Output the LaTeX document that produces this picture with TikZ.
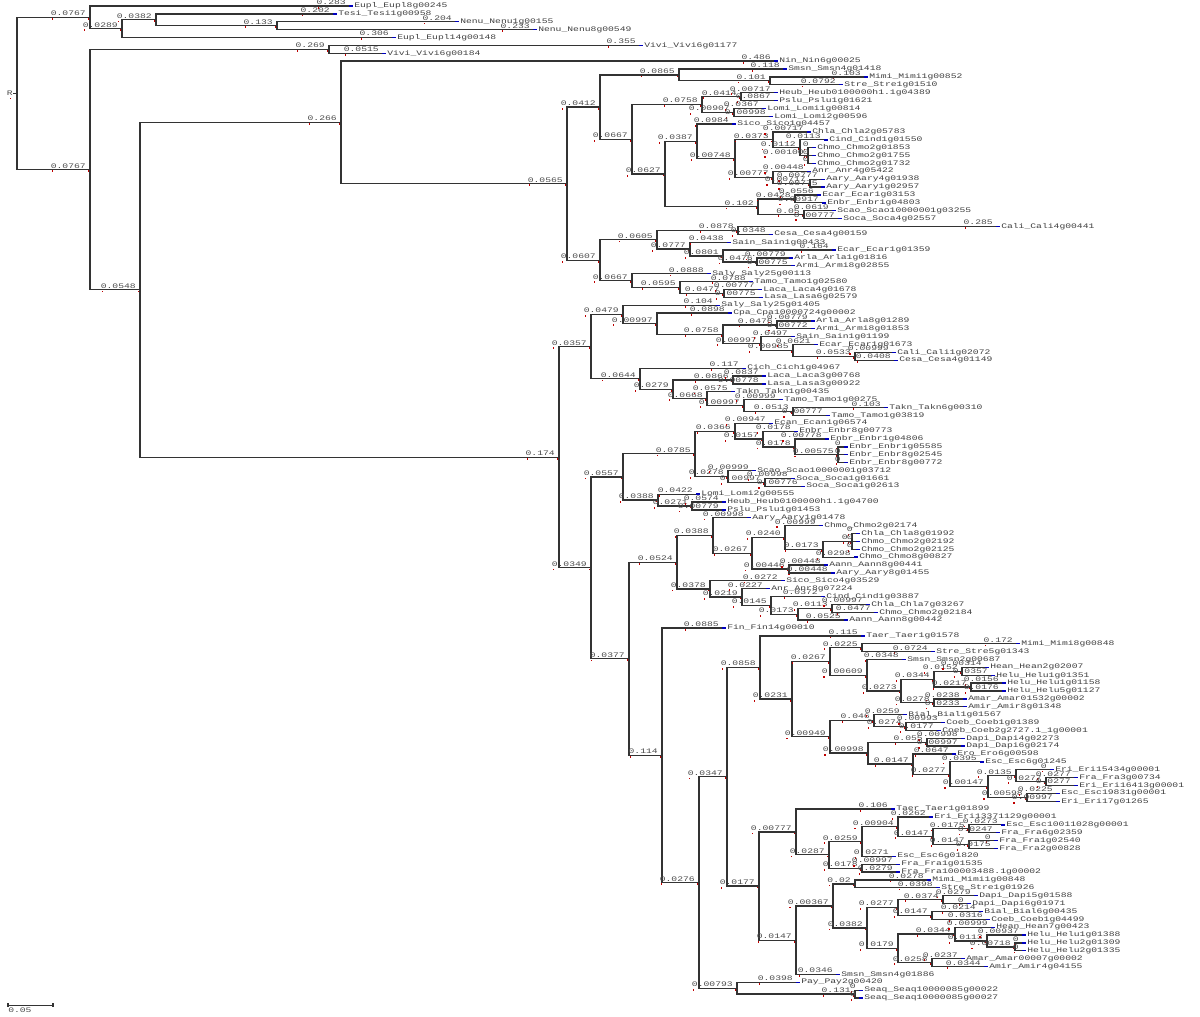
\documentclass[tikz,border=0pt]{standalone}
\usepackage{fontspec}
\usepackage{graphicx}
\newfontfamily\labfont{Liberation Mono}
\newcommand\lbf{\labfont\fontsize{5.2}{5.6}\selectfont}
\newcommand\sx[1]{\scalebox{1.4}[1]{#1}}
\tikzset{
  br/.style={draw=black!80, line width=0.95pt},
  blab/.style={font=\lbf, text=black!70, inner sep=0pt, anchor=south east},
  ltx/.style={font=\lbf, text=black!75, inner sep=0pt, anchor=west},
  tipm/.style={draw=blue!75!black, line width=1pt},
  redm/.style={fill=red!75!black},
}
% internal node: name, index, x, parent, branch label
\newcommand\inx[5]{%
  \coordinate (#1) at (#3,#2);
  \draw[br] (#4) |- (#1);
  \node[blab] (#1l) at ([xshift=-3pt,yshift=0.9pt]#1) {\sx{#5}};
  \fill[redm] ([xshift=1pt,yshift=-1.5pt]#1l.south west) rectangle ++(1.1pt,-1.3pt);
  \fill[redm] ([xshift=-1.6pt,yshift=-0.5pt]#1) rectangle ++(1.1pt,-1.3pt);
}
% leaf: name, index, x, parent, branch label, text
\newcommand\lfx[6]{%
  \coordinate (#1) at (#3,#2);
  \draw[br] (#4) |- (#1);
  \node[blab] (#1l) at ([xshift=-3pt,yshift=0.9pt]#1) {\sx{#5}};
  \fill[redm] ([xshift=1pt,yshift=-1.5pt]#1l.south west) rectangle ++(1.1pt,-1.3pt);
  \draw[tipm] ([xshift=-0.75pt]#1) -- ([xshift=2.4pt]#1);
  \node[ltx] (#1t) at ([xshift=3pt]#1) {\sx{#6}};
}
\begin{document}
\begin{tikzpicture}[x=0.75pt,y=-5.905pt]
\useasboundingbox (0,0.2379) rectangle (1200,129.29);
% root
\coordinate (R) at (17,12.1);
\coordinate (Rs) at (13,12.1);
\draw[br] (R) -- (Rs);
\node[font=\lbf, text=black!70, inner sep=0pt, anchor=east] (Rl) at (Rs) {\sx{R}};
\fill[redm] ([yshift=-1.2pt]Rl.south) rectangle ++(1.1pt,-1.3pt);
% top clade
\inx{nA}{2.4375}{90}{R}{0.0767}
\lfx{l1}{1}{350}{nA}{0.283}{Eupl\_Eupl8g00245}
\inx{nA2}{3.875}{122}{nA}{0.0289}
\inx{nA3}{2.75}{156}{nA2}{0.0382}
\lfx{l2}{2}{334}{nA3}{0.202}{Tesi\_Tesi1g00958}
\inx{nA4}{3.5}{277}{nA3}{0.133}
\lfx{l3}{3}{456}{nA4}{0.204}{Nenu\_Nenu1g00155}
\lfx{l4}{4}{534}{nA4}{0.233}{Nenu\_Nenu8g00549}
\lfx{l5}{5}{393}{nA2}{0.306}{Eupl\_Eupl14g00148}
% second clade
\inx{nB}{21.77}{90}{R}{0.0767}
\inx{nC}{6.5}{329}{nB}{0.269}
\lfx{l6}{6}{640}{nC}{0.355}{Vivi\_Vivi6g01177}
\lfx{l7}{7}{383}{nC}{0.0515}{Vivi\_Vivi6g00184}
\inx{nD}{37.05}{140}{nB}{0.0548}
\inx{nE}{15.78}{341}{nD}{0.266}
\lfx{l8}{8}{775}{nE}{0.486}{Nin\_Nin6g00025}
\inx{nG}{23.56}{567}{nE}{0.0565}
\inx{nH}{13.84}{600}{nG}{0.0412}
\inx{nHa}{9.75}{679}{nH}{0.0865}
\lfx{l9}{9}{784}{nHa}{0.118}{Smsn\_Smsn4g01418}
\inx{nHb}{10.5}{770}{nHa}{0.101}
\lfx{l10}{10}{865}{nHb}{0.103}{Mimi\_Mimi1g00852}
\lfx{l11}{11}{840}{nHb}{0.0792}{Stre\_Stre1g01510}
\inx{nHc}{17.92}{632}{nH}{0.0667}
\inx{nHd}{13.5}{702}{nHc}{0.0758}
\inx{nHe}{12.5}{741}{nHd}{0.0414}
\lfx{l12}{12}{775}{nHe}{0.00717}{Heub\_Heub0100000h1.1g04389}
\lfx{l13}{13}{775}{nHe}{0.0867}{Pslu\_Pslu1g01621}
\inx{nHf}{14.5}{734}{nHd}{0.00907}
\lfx{l14}{14}{763}{nHf}{0.0367}{Lomi\_Lomi1g00814}
\lfx{l15}{15}{770}{nHf}{0.00998}{Lomi\_Lomi2g00596}
\inx{nHg}{22.34}{665}{nHc}{0.0627}
\inx{nJ}{18.1875}{697}{nHg}{0.0387}
\lfx{l16}{16}{733}{nJ}{0.0984}{Sico\_Sico1g04457}
\inx{nJa}{20.375}{735}{nJ}{0.00748}
\inx{nJb}{18}{773}{nJa}{0.0373}
\lfx{l17}{17}{808}{nJb}{0.00717}{Chla\_Chla2g05783}
\inx{nJc}{19}{800}{nJb}{0.0112}
\lfx{l18}{18}{825}{nJc}{0.0113}{Cind\_Cind1g01550}
\inx{nJd}{20}{808}{nJc}{0.00100}
\lfx{l19}{19}{813}{nJd}{0}{Chmo\_Chmo2g01853}
\lfx{l20}{20}{813}{nJd}{0}{Chmo\_Chmo2g01755}
\lfx{l21}{21}{813}{nJd}{0}{Chmo\_Chmo2g01732}
\inx{nJe}{22.75}{773}{nJa}{0.00777}
\lfx{l22}{22}{808}{nJe}{0.00448}{Anr\_Anr4g05422}
\inx{nJf}{23.5}{810}{nJe}{0.00717}
\lfx{l23}{23}{822}{nJf}{0.00777}{Aary\_Aary4g01938}
\lfx{l24}{24}{822}{nJf}{0.00775}{Aary\_Aary1g02957}
\inx{nK}{26.5}{758}{nHg}{0.102}
\inx{nKa}{25.5}{795}{nK}{0.0428}
\lfx{l25}{25}{818}{nKa}{0.0556}{Ecar\_Ecar1g03153}
\lfx{l26}{26}{823}{nKa}{0.00917}{Enbr\_Enbr1g04803}
\inx{nKb}{27.5}{804}{nK}{0.05}
\lfx{l27}{27}{833}{nKb}{0.0619}{Scao\_Scao10000001g03255}
\lfx{l28}{28}{839}{nKb}{0.00777}{Soca\_Soca4g02557}
\inx{nG2}{33.28}{600}{nG}{0.0607}
\inx{nM}{30.6875}{657}{nG2}{0.0605}
\inx{nMa}{29.5}{738}{nM}{0.0878}
\lfx{l29}{29}{997}{nMa}{0.285}{Cali\_Cali4g00441}
\lfx{l30}{30}{770}{nMa}{0.0348}{Cesa\_Cesa4g00159}
\inx{nMb}{31.875}{690}{nM}{0.0777}
\lfx{l31}{31}{728}{nMb}{0.0438}{Sain\_Sain1g00433}
\inx{nMc}{32.75}{723}{nMb}{0.0801}
\lfx{l32}{32}{833}{nMc}{0.164}{Ecar\_Ecar1g01359}
\inx{nMd}{33.5}{757}{nMc}{0.0476}
\lfx{l33}{33}{790}{nMd}{0.00779}{Arla\_Arla1g01816}
\lfx{l34}{34}{792}{nMd}{0.00775}{Armi\_Armi8g02855}
\inx{nN}{35.875}{632}{nG2}{0.0667}
\lfx{l35}{35}{708}{nN}{0.0888}{Saly\_Saly25g00113}
\inx{nNa}{36.75}{680}{nN}{0.0595}
\lfx{l36}{36}{750}{nNa}{0.0788}{Tamo\_Tamo1g02580}
\inx{nNb}{37.5}{724}{nNa}{0.0477}
\lfx{l37}{37}{759}{nNb}{0.00777}{Laca\_Laca4g01678}
\lfx{l38}{38}{760}{nNb}{0.00775}{Lasa\_Lasa6g02579}
% F
\inx{nF}{58.31}{559}{nD}{0.174}
\inx{nF1}{44.26}{591}{nF}{0.0357}
\inx{nP}{40.17}{623}{nF1}{0.0479}
\lfx{l39}{39}{717}{nP}{0.104}{Saly\_Saly25g01405}
\inx{nPa}{41.34}{657}{nP}{0.00997}
\lfx{l40}{40}{729}{nPa}{0.0898}{Cpa\_Cpa10000724g00002}
\inx{nPb}{42.69}{723}{nPa}{0.0758}
\inx{nPc}{41.5}{777}{nPb}{0.0476}
\lfx{l41}{41}{812}{nPc}{0.00779}{Arla\_Arla8g01289}
\lfx{l42}{42}{812}{nPc}{0.00772}{Armi\_Armi8g01853}
\inx{nPd}{43.875}{761}{nPb}{0.00997}
\lfx{l43}{43}{792}{nPd}{0.0497}{Sain\_Sain1g01199}
\inx{nPe}{44.75}{793}{nPd}{0.00985}
\lfx{l44}{44}{815}{nPe}{0.0621}{Ecar\_Ecar1g01673}
\inx{nPf}{45.5}{855}{nPe}{0.0533}
\lfx{l45}{45}{893}{nPf}{0.00999}{Cali\_Cali1g02072}
\lfx{l46}{46}{895}{nPf}{0.0408}{Cesa\_Cesa4g01149}
\inx{nQ}{48.34}{640}{nF1}{0.0644}
\lfx{l47}{47}{743}{nQ}{0.117}{Cich\_Cich1g04967}
\inx{nQa}{49.69}{673}{nQ}{0.0279}
\inx{nQb}{48.5}{733}{nQa}{0.0866}
\lfx{l48}{48}{763}{nQb}{0.0837}{Laca\_Laca3g00768}
\lfx{l49}{49}{763}{nQb}{0.00778}{Lasa\_Lasa3g00922}
\inx{nQc}{50.875}{707}{nQa}{0.0668}
\lfx{l50}{50}{732}{nQc}{0.0575}{Takn\_Takn1g00435}
\inx{nQd}{51.75}{744}{nQc}{0.00997}
\lfx{l51}{51}{780}{nQd}{0.00999}{Tamo\_Tamo1g00275}
\inx{nQe}{52.5}{793}{nQd}{0.0513}
\lfx{l52}{52}{885}{nQe}{0.103}{Takn\_Takn6g00310}
\lfx{l53}{53}{827}{nQe}{0.00777}{Tamo\_Tamo1g03819}
% F2
\inx{nF2}{72.36}{591}{nF}{0.0349}
\inx{nR}{60.81}{623}{nF2}{0.0557}
\inx{nRa}{57.875}{695}{nR}{0.0785}
\inx{nRb}{55}{735}{nRa}{0.0366}
\lfx{l54}{54}{770}{nRb}{0.00947}{Ecan\_Ecan1g06574}
\inx{nRc}{56}{763}{nRb}{0.0157}
\lfx{l55}{55}{795}{nRc}{0.0178}{Enbr\_Enbr8g00773}
\inx{nRd}{57}{795}{nRc}{0.0178}
\lfx{l56}{56}{826}{nRd}{0.00778}{Enbr\_Enbr1g04806}
\inx{nRe}{58}{838}{nRd}{0.00575}
\lfx{l57}{57}{845}{nRe}{0}{Enbr\_Enbr1g05585}
\lfx{l58}{58}{845}{nRe}{0}{Enbr\_Enbr8g02545}
\lfx{l59}{59}{845}{nRe}{0}{Enbr\_Enbr8g00772}
\inx{nRf}{60.75}{728}{nRa}{0.0278}
\lfx{l60}{60}{753}{nRf}{0.00999}{Scao\_Scao10000001g03712}
\inx{nRg}{61.5}{765}{nRf}{0.00997}
\lfx{l61}{61}{792}{nRg}{0.00998}{Soca\_Soca1g01661}
\lfx{l62}{62}{802}{nRg}{0.00776}{Soca\_Soca1g02613}
\inx{nRh}{63.75}{658}{nR}{0.0388}
\lfx{l63}{63}{697}{nRh}{0.0422}{Lomi\_Lomi2g00555}
\inx{nRi}{64.5}{692}{nRh}{0.0271}
\lfx{l64}{64}{723}{nRi}{0.0574}{Heub\_Heub0100000h1.1g04700}
\lfx{l65}{65}{723}{nRi}{0.00779}{Pslu\_Pslu1g01453}
\inx{nS}{83.9}{629}{nF2}{0.0377}
\inx{nSa}{71.64}{677}{nS}{0.0524}
\inx{nSb}{68.25}{713}{nSa}{0.0388}
\lfx{l66}{66}{748}{nSb}{0.00998}{Aary\_Aary1g01478}
\inx{nSc}{70.5}{752}{nSb}{0.0267}
\inx{nSd}{68.5}{785}{nSc}{0.0240}
\lfx{l67}{67}{820}{nSd}{0.00999}{Chmo\_Chmo2g02174}
\inx{nSe}{70}{823}{nSd}{0.0173}
\inx{nSf}{69}{852}{nSe}{0}
\lfx{l68}{68}{857}{nSf}{0}{Chla\_Chla8g01992}
\lfx{l69}{69}{857}{nSf}{0}{Chmo\_Chmo2g02192}
\lfx{l70}{70}{857}{nSf}{0}{Chmo\_Chmo2g02125}
\lfx{l71}{71}{855}{nSe}{0.0298}{Chmo\_Chmo8g00827}
\inx{nSg}{72.5}{789}{nSc}{0.00446}
\lfx{l72}{72}{825}{nSg}{0.00448}{Aann\_Aann8g00441}
\lfx{l73}{73}{832}{nSg}{0.00448}{Aary\_Aary8g01455}
\inx{nSh}{75.03}{710}{nSa}{0.0378}
\lfx{l74}{74}{782}{nSh}{0.0272}{Sico\_Sico4g03529}
\inx{nSi}{76.06}{742}{nSh}{0.0219}
\lfx{l75}{75}{767}{nSi}{0.0227}{Anr\_Anr8g07224}
\inx{nSj}{77.125}{771}{nSi}{0.0145}
\lfx{l76}{76}{822}{nSj}{0.0372}{Cind\_Cind1g03887}
\inx{nSk}{78.25}{798}{nSj}{0.0173}
\inx{nSl}{77.5}{832}{nSk}{0.0113}
\lfx{l77}{77}{867}{nSl}{0.00997}{Chla\_Chla7g03267}
\lfx{l78}{78}{875}{nSl}{0.0477}{Chmo\_Chmo2g02184}
\lfx{l79}{79}{845}{nSk}{0.0525}{Aann\_Aann8g00442}
\inx{nT}{96.16}{662}{nS}{0.114}
\lfx{l80}{80}{723}{nT}{0.0885}{Fin\_Fin14g00010}
\inx{nW}{112.33}{699}{nT}{0.0276}
\inx{nV}{98.9}{727}{nW}{0.0347}
\inx{nU}{85.02}{760}{nV}{0.0858}
\lfx{l81}{81}{862}{nU}{0.115}{Taer\_Taer1g01578}
\inx{nUa}{89.03}{792}{nU}{0.0231}
\inx{nUb}{84.25}{830}{nUa}{0.0267}
\inx{nUc}{82.5}{862}{nUb}{0.0225}
\lfx{l82}{82}{1017}{nUc}{0.172}{Mimi\_Mimi8g00848}
\lfx{l83}{83}{932}{nUc}{0.0724}{Stre\_Stre5g01343}
\inx{nUd}{86}{867}{nUb}{0.00609}
\lfx{l84}{84}{903}{nUd}{0.0348}{Smsn\_Smsn2g00687}
\inx{nUe}{88}{901}{nUd}{0.0273}
\inx{nUf}{86.5}{934}{nUe}{0.0344}
\inx{nUg}{85.5}{962}{nUf}{0.0152}
\lfx{l85}{85}{986}{nUg}{0.00314}{Hean\_Hean2g02007}
\lfx{l86}{86}{992}{nUg}{0.0357}{Helu\_Helu1g01351}
\inx{nUh}{87.5}{971}{nUf}{0.0217}
\lfx{l87}{87}{1003}{nUh}{0.0156}{Helu\_Helu1g01158}
\lfx{l88}{88}{1003}{nUh}{0.0176}{Helu\_Helu5g01127}
\inx{nUi}{89.5}{934}{nUe}{0.0278}
\lfx{l89}{89}{964}{nUi}{0.0238}{Amar\_Amar01532g00002}
\lfx{l90}{90}{964}{nUi}{0.0233}{Amir\_Amir8g01348}
\inx{nUj}{93.82}{830}{nUa}{0.00949}
\inx{nUk}{91.75}{874}{nUj}{0.046}
\lfx{l91}{91}{904}{nUk}{0.0259}{Bial\_Bial1g01567}
\inx{nUl}{92.5}{906}{nUk}{0.0274}
\lfx{l92}{92}{942}{nUl}{0.00993}{Coeb\_Coeb1g01389}
\lfx{l93}{93}{938}{nUl}{0.0177}{Coeb\_Coeb2g2727.1\_1g00001}
\inx{nUm}{95.89}{868}{nUj}{0.00998}
\inx{nUn}{94.5}{927}{nUm}{0.055}
\lfx{l94}{94}{962}{nUn}{0.00998}{Dapi\_Dapi4g02273}
\lfx{l95}{95}{962}{nUn}{0.00997}{Dapi\_Dapi6g02174}
\inx{nUo}{97.28}{913}{nUm}{0.0147}
\lfx{l96}{96}{953}{nUo}{0.0647}{Ero\_Ero6g00598}
\inx{nUp}{98.56}{950}{nUo}{0.0277}
\lfx{l97}{97}{981}{nUp}{0.0395}{Esc\_Esc6g01245}
\inx{nUq}{100.125}{988}{nUp}{0.00147}
\inx{nUr}{98.75}{1016}{nUq}{0.0135}
\lfx{l98}{98}{1051}{nUr}{0}{Eri\_Eri15434g00001}
\inx{nUs}{99.5}{1046}{nUr}{0.0277}
\lfx{l99}{99}{1075}{nUs}{0.0277}{Fra\_Fra3g00734}
\lfx{l100}{100}{1075}{nUs}{0.0277}{Eri\_Eri16413g00001}
\inx{nUt}{101.5}{1027}{nUq}{0.00598}
\lfx{l101}{101}{1057}{nUt}{0.0225}{Esc\_Esc19831g00001}
\lfx{l102}{102}{1057}{nUt}{0.00997}{Eri\_Eri17g01265}
\inx{nVa}{112.78}{759}{nV}{0.0177}
\inx{nVb}{105.9}{796}{nVa}{0.00777}
\lfx{l103}{103}{892}{nVb}{0.106}{Taer\_Taer1g01899}
\inx{nVc}{108.81}{829}{nVb}{0.0287}
\inx{nVd}{107.125}{862}{nVc}{0.0259}
\inx{nVe}{105.25}{898}{nVd}{0.00904}
\lfx{l104}{104}{930}{nVe}{0.0262}{Eri\_Eri13371129g00001}
\inx{nVf}{106.5}{933}{nVe}{0.0147}
\inx{nVg}{105.5}{969}{nVf}{0.0175}
\lfx{l105}{105}{1002}{nVg}{0.0273}{Esc\_Esc10011028g00001}
\lfx{l106}{106}{997}{nVg}{0.0247}{Fra\_Fra6g02359}
\inx{nVh}{107.5}{969}{nVf}{0.0147}
\lfx{l107}{107}{995}{nVh}{0}{Fra\_Fra1g02540}
\lfx{l108}{108}{995}{nVh}{0.0175}{Fra\_Fra2g00828}
\lfx{l109}{109}{893}{nVd}{0.0271}{Esc\_Esc6g01820}
\inx{nVi}{110.5}{862}{nVc}{0.0178}
\lfx{l110}{110}{897}{nVi}{0.00997}{Fra\_Fra1g01535}
\lfx{l111}{111}{897}{nVi}{0.0279}{Fra\_Fra100003488.1g00002}
\inx{nY}{119.65}{796}{nVa}{0.0147}
\inx{nYa}{115.3}{833}{nY}{0.00367}
\inx{nYb}{112.5}{855}{nYa}{0.02}
\lfx{l112}{112}{928}{nYb}{0.0278}{Mimi\_Mimi1g00848}
\lfx{l113}{113}{937}{nYb}{0.0398}{Stre\_Stre1g01926}
\inx{nYc}{118.09}{867}{nYa}{0.0382}
\inx{nYd}{115.5}{898}{nYc}{0.0277}
\inx{nYe}{114.5}{943}{nYd}{0.0374}
\lfx{l114}{114}{975}{nYe}{0.0279}{Dapi\_Dapi5g01588}
\lfx{l115}{115}{968}{nYe}{0}{Dapi\_Dapi6g01971}
\inx{nYf}{116.5}{932}{nYd}{0.0147}
\lfx{l116}{116}{980}{nYf}{0.0214}{Bial\_Bial6g00435}
\lfx{l117}{117}{987}{nYf}{0.0316}{Coeb\_Coeb1g04499}
\inx{nYg}{120.69}{898}{nYc}{0.0179}
\inx{nYh}{118.875}{955}{nYg}{0.0344}
\lfx{l118}{118}{992}{nYh}{0.00999}{Hean\_Hean7g00423}
\inx{nYi}{119.75}{987}{nYh}{0.0113}
\lfx{l119}{119}{1023}{nYi}{0.00937}{Helu\_Helu1g01388}
\inx{nYj}{120.5}{1015}{nYi}{0.00718}
\lfx{l120}{120}{1023}{nYj}{0}{Helu\_Helu2g01309}
\lfx{l121}{121}{1023}{nYj}{0}{Helu\_Helu2g01335}
\inx{nYk}{122.5}{932}{nYg}{0.0258}
\lfx{l122}{122}{962}{nYk}{0.0237}{Amar\_Amar00007g00002}
\lfx{l123}{123}{985}{nYk}{0.0344}{Amir\_Amir4g04155}
\lfx{l124}{124}{837}{nY}{0.0346}{Smsn\_Smsn4g01886}
\inx{nX}{125.75}{737}{nW}{0.00793}
\lfx{l125}{125}{797}{nX}{0.0398}{Pay\_Pay2g00420}
\inx{nXa}{126.5}{855}{nX}{0.131}
\lfx{l126}{126}{860}{nXa}{0}{Seaq\_Seaq10000085g00022}
\lfx{l127}{127}{860}{nXa}{0}{Seaq\_Seaq10000085g00027}
% scale bar
\coordinate (sbL) at (8,127.89);
\coordinate (sbR) at (53,127.89);
\draw[draw=black!80, line width=0.6pt] (sbL) -- (sbR);
\draw[draw=black!80, line width=0.8pt] ([yshift=1.2pt]sbL) -- ([yshift=-1.2pt]sbL);
\draw[draw=black!80, line width=0.8pt] ([yshift=1.2pt]sbR) -- ([yshift=-1.2pt]sbR);
\node[font=\lbf, text=black!70, inner sep=0pt, anchor=north west] (sbT) at ([yshift=-1.8pt]sbL) {\sx{0.05}};
\end{tikzpicture}
\end{document}
